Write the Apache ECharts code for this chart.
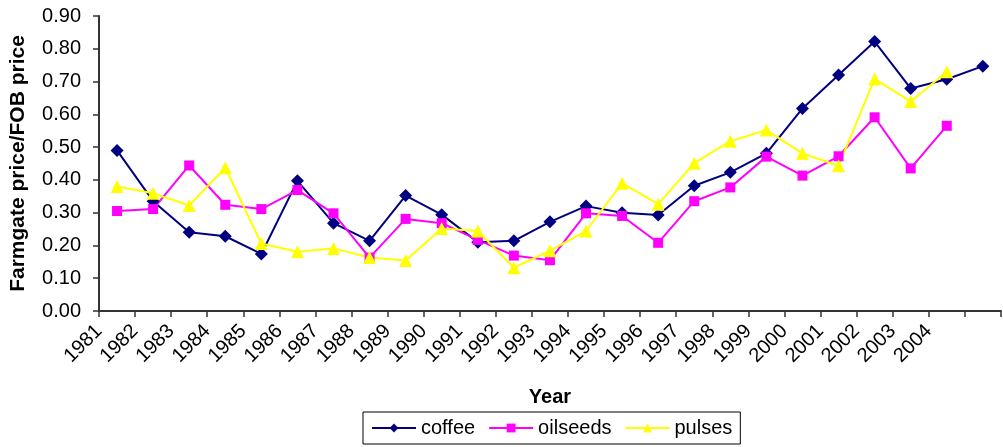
<!DOCTYPE html>
<html>
<head>
<meta charset="utf-8">
<script src="https://cdn.jsdelivr.net/npm/echarts@6/dist/echarts.min.js"></script>
<style>
	html, body { margin: 0; padding: 0; background: #fff; }
	#main { width: 1003px; height: 447px; }
</style>
</head>
<body>
<div id="main"></div>
<script>
	// 数据
	var years = [ '1981', '1982', '1983', '1984', '1985', '1986', '1987', '1988', '1989', '1990', '1991', '1992', '1993',
			'1994', '1995', '1996', '1997', '1998', '1999', '2000', '2001', '2002', '2003', '2004', '2005' ];
	// 刻度标签（落在刻度线上）
	var tickLabels = [ '1981', '1982', '1983', '1984', '1985', '1986', '1987', '1988', '1989', '1990', '1991', '1992',
			'1993', '1994', '1995', '1996', '1997', '1998', '1999', '2000', '2001', '2002', '2003', '2004', '', '' ];
	var coffee = [ 0.49, 0.335, 0.24, 0.228, 0.174, 0.397, 0.268, 0.214, 0.352, 0.294, 0.21, 0.214, 0.272, 0.32, 0.3,
			0.293, 0.382, 0.423, 0.481, 0.618, 0.72, 0.822, 0.679, 0.707, 0.747 ];
	var oilseeds = [ 0.305, 0.311, 0.444, 0.324, 0.311, 0.369, 0.298, 0.163, 0.281, 0.268, 0.217, 0.169, 0.155, 0.298,
			0.29, 0.208, 0.335, 0.377, 0.471, 0.413, 0.472, 0.591, 0.435, 0.565, null ];
	var pulses = [ 0.38, 0.359, 0.322, 0.437, 0.206, 0.181, 0.191, 0.163, 0.154, 0.252, 0.244, 0.132, 0.184, 0.244,
			0.39, 0.326, 0.451, 0.518, 0.552, 0.481, 0.443, 0.708, 0.639, 0.73, null ];

	var font = 'Arial, "Liberation Sans", sans-serif';
	var axisColor = '#333';

	var chart = echarts.init(document.getElementById('main'));
	chart.setOption({
		animation : false,
		textStyle : { fontFamily : font },
		grid : { left : 99, top : 16, right : -6, bottom : 136 },
		legend : {
			left : 363,
			top : 412,
			orient : 'horizontal',
			padding : [ 6, 8, 6, 8 ],
			itemGap : 13,
			itemWidth : 44,
			itemHeight : 11,
			borderColor : '#000',
			borderWidth : 1,
			textStyle : { fontSize : 20, color : '#000', fontFamily : font },
			data : [ 'coffee', 'oilseeds', 'pulses' ]
		},
		xAxis : [ {
			type : 'category',
			data : years,
			boundaryGap : true,
			axisLine : { show : false },
			axisTick : { show : false },
			axisLabel : { show : false }
		}, {
			type : 'category',
			data : tickLabels,
			position : 'bottom',
			boundaryGap : false,
			name : 'Year',
			nameLocation : 'middle',
			nameGap : 76,
			nameTextStyle : { fontSize : 20, fontWeight : 'bold', color : '#000' },
			axisLine : { lineStyle : { color : axisColor, width : 2 } },
			axisTick : { length : 6, lineStyle : { color : axisColor, width : 1.5 }, interval : 0 },
			axisLabel : { interval : 0, rotate : 45, fontSize : 20, color : '#000', margin : 17 }
		} ],
		yAxis : {
			type : 'value',
			min : 0,
			max : 0.9,
			interval : 0.1,
			name : 'Farmgate price/FOB price',
			nameLocation : 'middle',
			nameGap : 70,
			nameTextStyle : { fontSize : 21, fontWeight : 'bold', color : '#000' },
			splitLine : { show : false },
			axisLine : { show : true, lineStyle : { color : axisColor, width : 2 } },
			axisTick : { show : true, length : 6, lineStyle : { color : axisColor, width : 1.5 } },
			axisLabel : {
				fontSize : 20,
				color : '#000',
				margin : 18,
				formatter : function(v) {
					return v.toFixed(2);
				}
			}
		},
		series : [ {
			name : 'coffee',
			type : 'line',
			xAxisIndex : 0,
			data : coffee,
			symbol : 'diamond',
			symbolSize : 13,
			color : '#000080',
			lineStyle : { width : 2, color : '#000080' },
			itemStyle : { color : '#000080' }
		}, {
			name : 'oilseeds',
			type : 'line',
			xAxisIndex : 0,
			data : oilseeds,
			symbol : 'rect',
			symbolSize : 10,
			color : '#ff00ff',
			lineStyle : { width : 2, color : '#ff00ff' },
			itemStyle : { color : '#ff00ff' }
		}, {
			name : 'pulses',
			type : 'line',
			xAxisIndex : 0,
			data : pulses,
			symbol : 'triangle',
			symbolSize : 13,
			color : '#ffff00',
			lineStyle : { width : 2, color : '#ffff00' },
			itemStyle : { color : '#ffff00' }
		} ]
	});
</script>
</body>
</html>
